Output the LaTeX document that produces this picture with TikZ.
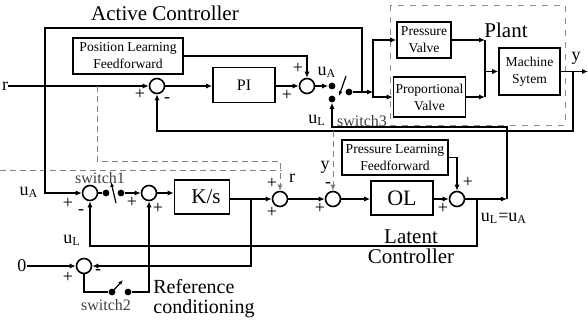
\documentclass[tikz,border=0pt]{standalone}
\usepackage{fontspec}
\setmainfont{Liberation Serif}
\usetikzlibrary{arrows.meta,positioning}

\begin{document}
\begin{tikzpicture}[x=0.5pt, y=-0.5pt,
  box/.style={rectangle, draw, thick, align=center, inner sep=1pt, font=\fontsize{6.8}{8.5}\selectfont},
  sum/.style={circle, draw, thick, minimum size=7.5pt, inner sep=0pt},
  dot/.style={circle, fill, inner sep=0pt, minimum size=3.4pt},
  lbl/.style={inner sep=0pt, font=\fontsize{9}{10}\selectfont},
  sgn/.style={inner sep=0pt, font=\fontsize{9}{9}\selectfont},
  big/.style={inner sep=0pt, align=center, font=\fontsize{10.5}{10}\selectfont},
  swlbl/.style={inner sep=0pt, text=black!75, font=\fontsize{8}{9}\selectfont},
  arr/.style={-{Latex[length=3pt, width=2.6pt]}, thick},
  ln/.style={thick},
  blade/.style={-{Latex[length=2.4pt, width=2pt]}, semithick},
  tap/.style={thin, densely dashed, black!50},
  frame/.style={thin, dashed, black!45}
]
\useasboundingbox (0,0) rectangle (588,322);

% active controller
\node[big] (actlbl) at (165,13) {Active Controller};
\node[lbl] (rin) at (5,86) {r};
\node[sum] (t1) at (157,86) {};
\node[box, minimum width=55pt, minimum height=18pt] (plf) at (128,56) {Position Learning\\Feedforward};
\node[box, minimum width=31pt, minimum height=17.5pt, font=\fontsize{8}{9}\selectfont] (pi) at (244,85) {\raisebox{-3pt}{PI}};
\node[sum] (t2) at (307,86) {};
\node[dot] (sa) at (332,86) {};
\node[dot] (sl) at (332,99) {};
\node[dot] (so) at (349,92) {};
\coordinate (ju) at (362,92);
\coordinate (bus) at (373,92);
\coordinate (ua1) at (45,28);
\coordinate (yfb) at (157,131);

% plant
\draw[frame] (390,5) rectangle (565,125);
\node[big] (plantlbl) at (506,30) {Plant};
\node[box, minimum width=27pt, minimum height=18pt] (pv) at (424,40) {Pressure\\Valve};
\node[box, minimum width=34.5pt, minimum height=20pt] (propv) at (429.5,97) {Proportional\\Valve};
\node[box, minimum width=30.5pt, minimum height=23.5pt] (ms) at (529.5,71.5) {Machine\\Sytem};
\coordinate (mix) at (485,71.5);
\coordinate (ytap) at (573,71.5);
\coordinate (yout) at (588,71.5);

% latent controller
\draw[tap] (0,170) -- (282,170);
\node[sum] (s1) at (90,193) {};
\node[dot] (w1a) at (106,193) {};
\node[dot] (w1b) at (121,193) {};
\node[sum] (s2) at (149,193) {};
\node[box, minimum width=27.5pt, minimum height=17pt, font=\fontsize{10.5}{11}\selectfont] (ks) at (202,197) {\raisebox{-3pt}{\hspace{4pt}K/s}};
\node[sum] (s3) at (280,199) {};
\node[sum] (s4) at (333,199) {};
\node[box, minimum width=31pt, minimum height=17pt, font=\fontsize{11}{12}\selectfont] (ol) at (402,198) {\raisebox{-2pt}{OL}};
\node[sum] (s5) at (457,199) {};
\node[box, minimum width=53pt, minimum height=17.5pt] (plf2) at (395,157.5) {Pressure Learning\\Feedforward};
\node[sum] (s6) at (84,266) {};
\node[lbl] (zero) at (22,266) {0};
\node[dot] (w2a) at (112,292) {};
\node[dot] (w2b) at (128,292) {};
\coordinate (rtap) at (97,86);
\coordinate (rc) at (97,161);
\coordinate (ytap2) at (333,131);
\coordinate (kbr) at (251,199);
\coordinate (lat) at (477,199);
\coordinate (lcorner) at (507,199);
\coordinate (ulfb) at (90,246);
\coordinate (ul1) at (332,127);

% upper connectors
\draw[arr] (rin) -- (t1);
\draw[arr] (t1) -- (t1 -| pi.west);
\draw[arr] (t1 -| pi.east) -- (t2);
\draw[arr] (plf.east) -| (t2);
\draw[arr] (t2) -- (sa);
\draw[blade] (346,76) -- (339,96);
\draw[ln] (so) -- (ju);
\draw[arr] (ju) -- (bus);
\draw[arr] (bus) |- (pv.west);
\draw[arr] (bus) |- (propv.west);
\draw[arr] (ju) |- (ua1) |- (s1);
\draw[arr] (pv.east) -- (pv.east -| mix);
\draw[arr] (propv.east) -- (propv.east -| mix);
\draw[ln] (pv.east -| mix) -- (propv.east -| mix);
\draw[arr] (mix) -- (ms.west);
\draw[arr] (ms.east) -- (yout);
\draw[arr] (ytap) |- (yfb) -- (t1);

% lower connectors
\draw[ln] (s1) -- (w1a);
\draw[arr] (w1b) -- (s2);
\draw[blade] (116,203) -- (111,182);
\draw[arr] (s2) -- (s2 -| ks.west);
\draw[arr] (ks.east |- s3) -- (s3);
\draw[arr] (kbr) |- (s6);
\draw[arr] (zero) -- (s6);
\draw[ln] (s6) |- (w2a);
\draw[blade] (113,291) -- (123,280);
\draw[arr] (w2b) -| (s2);
\draw[arr, tap] (rtap) -- (rc) -| (s3);
\draw[arr, tap] (ytap2) -- (s4);
\draw[arr] (s3) -- (s4);
\draw[arr] (s4) -- (s4 -| ol.west);
\draw[arr] (ol.east |- s5) -- (s5);
\draw[arr] (plf2.east) -| (s5);
\draw[arr] (s5) -- (lcorner);
\draw[arr] (lat) |- (ulfb) -- (s1);
\draw[arr] (lcorner) |- (ul1) -- (sl);

% labels
\node[sgn] (p1) at (140,94) {+};
\node[sgn] (m1) at (167,100) {-};
\node[sgn] (p2) at (298,68) {+};
\node[sgn] (p3) at (287,95) {+};
\node[lbl] (ualbl) at (327,72) {u\textsubscript{A}};
\node[lbl] (ullbl) at (317,120) {u\textsubscript{L}};
\node[swlbl] (sw3) at (362,121) {switch3};
\node[lbl] (ylbl) at (576,58) {y};
\node[lbl] (uain) at (29,192) {u\textsubscript{A}};
\node[sgn] (p4) at (68,203) {+};
\node[sgn] (m2) at (81,212) {-};
\node[swlbl] (sw1) at (100,178) {switch1};
\node[sgn] (p5) at (132,202) {+};
\node[sgn] (p6) at (158,208) {+};
\node[lbl] (ulin) at (72,240) {u\textsubscript{L}};
\node[sgn] (p7) at (272,183) {+};
\node[sgn] (p8) at (272,212) {+};
\node[lbl] (rlbl) at (292,178) {r};
\node[sgn] (m3) at (328,185) {-};
\node[sgn] (p9) at (320,208) {+};
\node[lbl] (ylbl2) at (325,167) {y};
\node[sgn] (p10) at (443,208) {+};
\node[sgn] (p11) at (468,182) {+};
\node[lbl] (ulua) at (504,218) {u\textsubscript{L}=u\textsubscript{A}};
\node[big] (latlbl) at (411,247) {Latent\\Controller};
\node[sgn] (p12) at (68,277) {+};
\node[sgn] (m4) at (98,272) {-};
\node[swlbl] (sw2) at (106,305) {switch2};
\node[big, align=left, anchor=west, font=\fontsize{10}{10}\selectfont] (refc) at (153,299) {Reference\\conditioning};
\end{tikzpicture}
\end{document}
